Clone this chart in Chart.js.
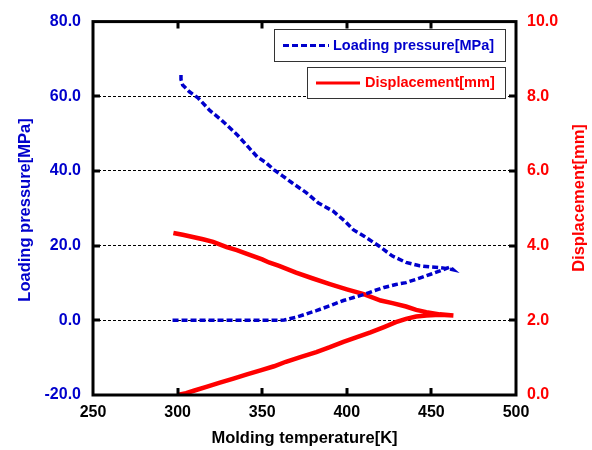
<!DOCTYPE html>
<html>
<head>
<meta charset="utf-8">
<script src="https://cdn.jsdelivr.net/npm/chart.js@4.4.1/dist/chart.umd.min.js"></script>
<style>
  html, body { margin: 0; padding: 0; background: #fff; }
  #wrap { width: 592px; height: 450px; }
</style>
</head>
<body>
<div id="wrap"><canvas id="chart" width="592" height="450"></canvas></div>
<script>
// Loading pressure [MPa] vs temperature [K] (heating branch, then cooling branch)
const loadTemp = [297, 310, 330, 350, 360, 363, 366, 370, 376, 382, 390, 398, 404, 410, 416, 422, 429, 435, 443, 450, 456, 461, 463,
                  460, 455, 449, 443, 435, 427, 419, 410, 404, 399, 392, 383, 376, 368, 362, 357, 352, 347, 342, 335, 326, 319, 312, 307, 303, 302, 302];
const loadPressure = [0, 0, 0, 0, 0, 0.1, 0.4, 0.8, 1.7, 2.6, 3.9, 5.3, 6.1, 6.9, 7.9, 8.8, 9.6, 10.1, 11.3, 12.4, 13.4, 14.3, 13.5,
                      13.8, 14.1, 14.3, 14.6, 15.5, 17.2, 19.9, 22.6, 24.2, 26.5, 29.2, 31.5, 34.2, 36.7, 38.7, 40.3, 42.3, 43.8, 46.3, 49.8, 53.6, 56.2, 59.6, 61.2, 63.0, 64.5, 66.3];

// Displacement [mm] vs temperature [K]
const dispTemp = [300, 305, 310, 317, 325, 333, 341, 349, 357, 364, 373, 382, 390, 398, 406, 414, 422, 429, 435, 441, 447, 455, 463,
                  455, 447, 441, 435, 427, 420, 410, 400, 390, 380, 370, 360, 354, 350, 341, 335, 329, 321, 315, 309, 303, 297.5];
const dispValue = [0.0, 0.05, 0.12, 0.22, 0.33, 0.44, 0.55, 0.66, 0.77, 0.89, 1.02, 1.15, 1.28, 1.42, 1.55, 1.68, 1.82, 1.95, 2.04, 2.10, 2.13, 2.15, 2.13,
                   2.16, 2.22, 2.28, 2.37, 2.46, 2.53, 2.70, 2.83, 2.97, 3.12, 3.28, 3.46, 3.55, 3.63, 3.78, 3.88, 3.96, 4.10, 4.17, 4.23, 4.29, 4.34];

// axis ticks
const tempTicks = [250, 300, 350, 400, 450, 500];
const pressureTicks = [-20, 0, 20, 40, 60, 80];
const dispTicks = [0, 2, 4, 6, 8, 10];

const BLUE = '#0000cc';
const RED = '#ff0000';
const FONT = '"Liberation Sans", Arial, sans-serif';

function pts(xs, ys) { return xs.map((x, i) => ({ x: x, y: ys[i] })); }

// frame, inward tick marks, axis titles and the two boxed legends
const decorPlugin = {
  id: 'decor',
  afterDatasetsDraw(chart) {
    const { ctx, chartArea: a, scales } = chart;
    ctx.save();
    ctx.strokeStyle = '#000';
    ctx.lineWidth = 3;
    const L = 7;
    ctx.beginPath();
    tempTicks.slice(1, -1).forEach(v => {
      const x = Math.round(scales.x.getPixelForValue(v));
      ctx.moveTo(x, a.bottom); ctx.lineTo(x, a.bottom - L);
      ctx.moveTo(x, a.top); ctx.lineTo(x, a.top + L);
    });
    pressureTicks.slice(1, -1).forEach(v => {
      const y = Math.round(scales.y.getPixelForValue(v));
      ctx.moveTo(a.left, y); ctx.lineTo(a.left + L, y);
    });
    dispTicks.slice(1, -1).forEach(v => {
      const y = Math.round(scales.y1.getPixelForValue(v));
      ctx.moveTo(a.right, y); ctx.lineTo(a.right - L, y);
    });
    ctx.stroke();
    ctx.strokeRect(a.left, a.top, a.right - a.left, a.bottom - a.top);
    ctx.restore();
  },
  afterDraw(chart) {
    const { ctx, chartArea: a } = chart;
    const ds = chart.data.datasets;
    ctx.save();
    // axis titles
    ctx.font = 'bold 16.5px ' + FONT;
    ctx.textAlign = 'center';
    ctx.textBaseline = 'middle';
    ctx.fillStyle = '#000';
    ctx.fillText('Molding temperature[K]', (a.left + a.right) / 2, 438);
    ctx.save();
    ctx.translate(25, 210);
    ctx.rotate(-Math.PI / 2);
    ctx.fillStyle = BLUE;
    ctx.fillText(ds[0].label, 0, 0);
    ctx.restore();
    ctx.save();
    ctx.translate(579, 198);
    ctx.rotate(-Math.PI / 2);
    ctx.fillStyle = RED;
    ctx.fillText(ds[1].label, 0, 0);
    ctx.restore();

    // legend boxes
    const boxes = [
      { x1: 274, y1: 29, x2: 505, y2: 61, lx1: 283, lx2: 329, tx: 333, d: ds[0] },
      { x1: 307, y1: 67, x2: 505, y2: 98, lx1: 316, lx2: 360, tx: 365, d: ds[1] }
    ];
    boxes.forEach(b => {
      ctx.fillStyle = '#fff';
      ctx.fillRect(b.x1, b.y1, b.x2 - b.x1, b.y2 - b.y1);
      ctx.strokeStyle = '#333';
      ctx.lineWidth = 1;
      ctx.setLineDash([]);
      ctx.strokeRect(b.x1 + 0.5, b.y1 + 0.5, b.x2 - b.x1, b.y2 - b.y1);
      const cy = (b.y1 + b.y2) / 2 + 0.5;
      ctx.strokeStyle = b.d.borderColor;
      ctx.lineWidth = 3;
      ctx.setLineDash(b.d.borderDash || []);
      ctx.beginPath();
      ctx.moveTo(b.lx1, cy); ctx.lineTo(b.lx2, cy);
      ctx.stroke();
      ctx.setLineDash([]);
      ctx.font = 'bold 14.5px ' + FONT;
      ctx.textAlign = 'left';
      ctx.textBaseline = 'middle';
      ctx.fillStyle = b.d.borderColor;
      ctx.fillText(b.d.label, b.tx, cy);
    });
    ctx.restore();
  }
};

function fixTicks(list) {
  return s => { s.ticks = list.map(v => ({ value: v })); };
}

new Chart(document.getElementById('chart').getContext('2d'), {
  type: 'scatter',
  data: {
    datasets: [
      {
        label: 'Loading pressure[MPa]',
        data: pts(loadTemp, loadPressure),
        yAxisID: 'y',
        showLine: true,
        borderColor: BLUE,
        backgroundColor: BLUE,
        borderWidth: 3.5,
        borderDash: [6, 3],
        pointRadius: 0,
        tension: 0
      },
      {
        label: 'Displacement[mm]',
        data: pts(dispTemp, dispValue),
        yAxisID: 'y1',
        showLine: true,
        borderColor: RED,
        backgroundColor: RED,
        borderWidth: 4.5,
        pointRadius: 0,
        tension: 0
      }
    ]
  },
  options: {
    responsive: false,
    animation: false,
    devicePixelRatio: 1,
    layout: { padding: { top: 19, left: 0, right: 0, bottom: 0 } },
    plugins: { legend: { display: false }, tooltip: { enabled: false } },
    scales: {
      x: {
        type: 'linear',
        position: 'bottom',
        min: 250, max: 500,
        afterBuildTicks: fixTicks(tempTicks),
        afterFit: s => { s.height = 55; },
        grid: { display: false, drawTicks: false },
        border: { display: false },
        ticks: { padding: 8, color: '#000', font: { family: FONT, size: 16, weight: 'bold' } }
      },
      y: {
        position: 'left',
        min: -20, max: 80,
        afterBuildTicks: fixTicks(pressureTicks),
        afterFit: s => { s.width = 93; },
        grid: { color: '#000', lineWidth: 1, drawTicks: false, tickBorderDash: [3, 2] },
        border: { display: false, dash: [3, 2] },
        ticks: { padding: 12, color: BLUE, font: { family: FONT, size: 16, weight: 'bold' }, callback: v => v.toFixed(1) }
      },
      y1: {
        position: 'right',
        min: 0, max: 10,
        afterBuildTicks: fixTicks(dispTicks),
        afterFit: s => { s.width = 76; },
        grid: { display: false, drawTicks: false },
        border: { display: false },
        ticks: { padding: 11, color: RED, font: { family: FONT, size: 16, weight: 'bold' }, callback: v => v.toFixed(1) }
      }
    }
  },
  plugins: [decorPlugin]
});
</script>
</body>
</html>
